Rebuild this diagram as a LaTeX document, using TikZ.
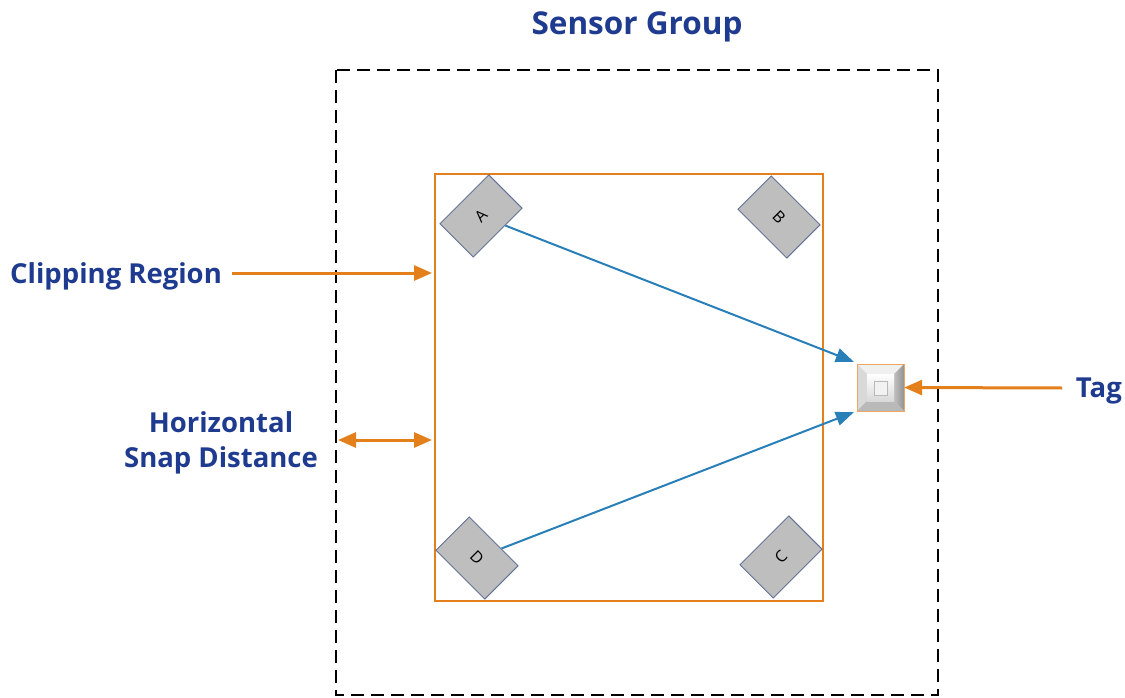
\documentclass[tikz,border=0pt]{standalone}
\usepackage{fontspec}
\setmainfont{Open Sans}
\usetikzlibrary{arrows.meta,shapes.geometric}
\definecolor{txtblue}{RGB}{31,59,144}
\definecolor{orng}{RGB}{228,128,28}
\definecolor{arblue}{RGB}{41,128,185}
\definecolor{sgray}{RGB}{190,190,190}
\definecolor{sbord}{RGB}{100,115,150}
\tikzset{
  lbl/.style={text=txtblue,font=\fontsize{27.5}{35}\selectfont\bfseries,inner sep=0pt},
  sensor/.style={draw=sbord,fill=sgray,line width=1pt,minimum width=69pt,minimum height=47pt,inner sep=0pt,font=\fontsize{16}{18}\selectfont},
  oarrow/.style={draw=orng,line width=3pt,-{Triangle[length=18pt,width=15pt]}},
  barrow/.style={draw=arblue,line width=2pt,-{Triangle[length=18pt,width=14pt]}},
}
\begin{document}
\begin{tikzpicture}[x=1pt,y=-1pt]
\useasboundingbox (0,0) rectangle (1125,698);
\fill[white] (0,0) rectangle (1125,698);
% title
\node[lbl,font=\fontsize{31.5}{36}\selectfont\bfseries] (title) at (637,27) {Sensor Group};
% outer dashed group
\draw[line width=2pt,dash pattern=on 13pt off 7pt] (336,70) rectangle (938,695);
% clipping region
\draw[orng,line width=1.5pt] (435,174) rectangle (823,601);
\coordinate (clipL) at (432,273);
\coordinate (clipL2) at (432,440);
\coordinate (grpL) at (338,440);
% sensors
\node[sensor,rotate=45] (A) at (481,216) {A};
\node[sensor,rotate=-45] (B) at (779,217) {B};
\node[sensor,rotate=45] (C) at (781,557) {C};
\node[sensor,rotate=-45] (D) at (477,558) {D};
% tag
\node[minimum size=47pt,inner sep=0pt] (tag) at (880.5,387.5) {};
\shade[top color=white,bottom color=gray!45] (857,364) rectangle (904,411);
\fill[gray!12] (857,364) -- (904,364) -- (894,374) -- (867,374) -- cycle;
\fill[gray!30] (857,364) -- (867,374) -- (867,401) -- (857,411) -- cycle;
\shade[left color=gray!50,right color=gray!85] (904,364) -- (904,411) -- (894,401) -- (894,374) -- cycle;
\fill[gray!55] (857,411) -- (904,411) -- (894,401) -- (867,401) -- cycle;
\shade[top color=white,bottom color=gray!30] (867,374) rectangle (894,401);
\draw[gray!55,line width=0.8pt,fill=gray!10] (874,381) rectangle (887,395);
\draw[orng!70,line width=1pt] (857,364) rectangle (904,411);
% labels
\node[lbl,anchor=west] (clip) at (10,276) {Clipping Region};
\node[lbl,align=center] (snap) at (221,443) {Horizontal\\Snap Distance};
\node[lbl,anchor=east] (taglbl) at (1122,391) {Tag};
% connectors
\coordinate (clipS) at (232,273);
\draw[oarrow] (clipS) -- (clipL);
\draw[oarrow,{Triangle[length=18pt,width=15pt]}-{Triangle[length=18pt,width=15pt]}] (grpL) -- (clipL2);
\coordinate (tagS) at (1062,388);
\draw[oarrow] (tagS) -- (tag.east);
\draw[barrow] (A) -- ([xshift=-3pt,yshift=2pt]tag.north west);
\draw[barrow] (D) -- ([xshift=-3pt,yshift=-1pt]tag.south west);
\end{tikzpicture}
\end{document}
